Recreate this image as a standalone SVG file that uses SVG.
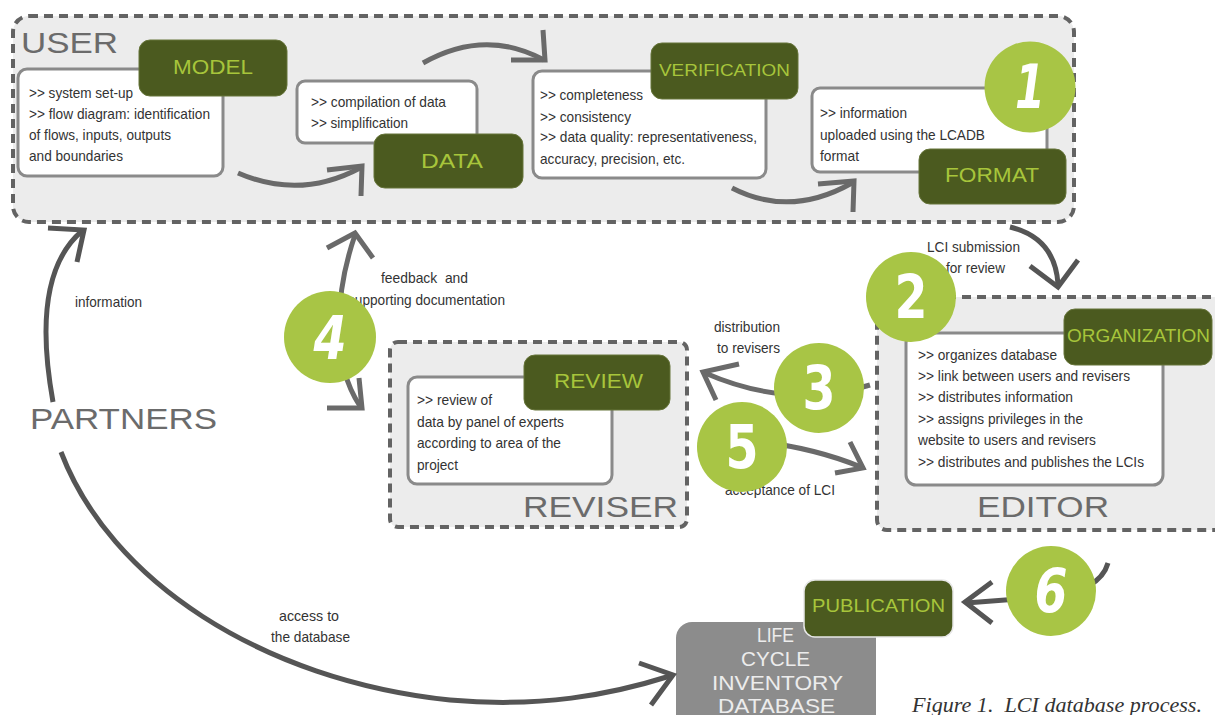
<svg xmlns="http://www.w3.org/2000/svg" width="1215" height="715" viewBox="0 0 1215 715">
<style>
.bg{fill:#fff}
.cont{fill:#ececec;stroke:#636363;stroke-width:4;stroke-dasharray:9 6}
.tb{fill:#fff;stroke:#8a8a8a;stroke-width:3}
.gb{fill:#4b5a1f;stroke:#66743a;stroke-width:1}
.gt{font-family:"Liberation Sans",Arial,sans-serif;fill:#a7c53b;text-anchor:start}
.t{font-family:"Liberation Sans",Arial,sans-serif;font-size:14.5px;fill:#333}
.big{font-family:"Liberation Sans",Arial,sans-serif;font-size:30px;fill:#6b6b6b}
.arr{fill:none;stroke:#6a6a6a;stroke-width:5}
.arrd{fill:none;stroke:#555;stroke-width:5}
.circ{fill:#a8c545}
.num{font-family:"DejaVu Sans Condensed","DejaVu Sans",sans-serif;font-weight:bold;font-size:60px;fill:#fff;text-anchor:middle}
.db{fill:#8c8c8c}
.dbt{font-family:"Liberation Sans",Arial,sans-serif;font-size:21px;fill:#ececec}
</style>
<rect class="bg" x="0" y="0" width="1215" height="715"/>

<g id="user">
<rect class="cont" x="13" y="16" width="1061" height="206" rx="16"/>
<text class="big" x="21" y="53" textLength="97" lengthAdjust="spacingAndGlyphs">USER</text>
</g>

<g id="model">
<rect class="tb" x="18" y="69" width="205" height="107" rx="9"/>
<text class="t" x="29" y="98" textLength="104" lengthAdjust="spacingAndGlyphs">&gt;&gt; system set-up</text>
<text class="t" x="29" y="119" textLength="181" lengthAdjust="spacingAndGlyphs">&gt;&gt; flow diagram: identification</text>
<text class="t" x="29" y="140" textLength="142" lengthAdjust="spacingAndGlyphs">of flows, inputs, outputs</text>
<text class="t" x="29" y="161" textLength="94" lengthAdjust="spacingAndGlyphs">and boundaries</text>
<rect class="gb" x="139" y="40" width="148" height="56" rx="11"/>
<text class="gt" x="173" y="74" font-size="20" textLength="80" lengthAdjust="spacingAndGlyphs">MODEL</text>
</g>

<g id="data">
<rect class="tb" x="297" y="81" width="180" height="62" rx="8"/>
<text class="t" x="311" y="107" textLength="135" lengthAdjust="spacingAndGlyphs">&gt;&gt; compilation of data</text>
<text class="t" x="311" y="128" textLength="97" lengthAdjust="spacingAndGlyphs">&gt;&gt; simplification</text>
<rect class="gb" x="374" y="134" width="149" height="54" rx="11"/>
<text class="gt" x="421" y="168" font-size="21" textLength="62" lengthAdjust="spacingAndGlyphs">DATA</text>
</g>

<g id="verification">
<rect class="tb" x="533" y="71" width="233" height="107" rx="9"/>
<text class="t" x="540" y="100" textLength="103" lengthAdjust="spacingAndGlyphs">&gt;&gt; completeness</text>
<text class="t" x="540" y="122" textLength="91" lengthAdjust="spacingAndGlyphs">&gt;&gt; consistency</text>
<text class="t" x="540" y="142" textLength="217" lengthAdjust="spacingAndGlyphs">&gt;&gt; data quality: representativeness,</text>
<text class="t" x="540" y="164" textLength="145" lengthAdjust="spacingAndGlyphs">accuracy, precision, etc.</text>
<rect class="gb" x="651" y="43" width="147" height="56" rx="11"/>
<text class="gt" x="659" y="76" font-size="16" textLength="131" lengthAdjust="spacingAndGlyphs">VERIFICATION</text>
</g>

<g id="format">
<rect class="tb" x="812" y="88" width="235" height="84" rx="8"/>
<text class="t" x="820" y="118" textLength="87" lengthAdjust="spacingAndGlyphs">&gt;&gt; information</text>
<text class="t" x="820" y="140" textLength="165" lengthAdjust="spacingAndGlyphs">uploaded using the LCADB</text>
<text class="t" x="820" y="161" textLength="39" lengthAdjust="spacingAndGlyphs">format</text>
<rect class="gb" x="919" y="149" width="147" height="55" rx="11"/>
<text class="gt" x="945" y="182" font-size="21" textLength="94" lengthAdjust="spacingAndGlyphs">FORMAT</text>
</g>

<g id="reviser">
<rect class="cont" x="390" y="342" width="297" height="185" rx="8"/>
<rect class="tb" x="408" y="377" width="204" height="107" rx="9"/>
<text class="t" x="417" y="405" textLength="75" lengthAdjust="spacingAndGlyphs">&gt;&gt; review of</text>
<text class="t" x="417" y="427" textLength="147" lengthAdjust="spacingAndGlyphs">data by panel of experts</text>
<text class="t" x="417" y="448" textLength="144" lengthAdjust="spacingAndGlyphs">according to area of the</text>
<text class="t" x="417" y="470" textLength="41" lengthAdjust="spacingAndGlyphs">project</text>
<rect class="gb" x="524" y="355" width="146" height="55" rx="11"/>
<text class="gt" x="554" y="388" font-size="20" textLength="89" lengthAdjust="spacingAndGlyphs">REVIEW</text>
<text class="big" x="523" y="517" textLength="155" lengthAdjust="spacingAndGlyphs">REVISER</text>
</g>

<g id="editor">
<rect class="cont" x="877" y="297" width="350" height="233" rx="10"/>
<rect class="tb" x="906" y="333" width="257" height="152" rx="10"/>
<text class="t" x="918" y="360" textLength="139" lengthAdjust="spacingAndGlyphs">&gt;&gt; organizes database</text>
<text class="t" x="918" y="381" textLength="212" lengthAdjust="spacingAndGlyphs">&gt;&gt; link between users and revisers</text>
<text class="t" x="918" y="402" textLength="155" lengthAdjust="spacingAndGlyphs">&gt;&gt; distributes information</text>
<text class="t" x="918" y="424" textLength="165" lengthAdjust="spacingAndGlyphs">&gt;&gt; assigns privileges in the</text>
<text class="t" x="918" y="445" textLength="178" lengthAdjust="spacingAndGlyphs">website to users and revisers</text>
<text class="t" x="918" y="467" textLength="226" lengthAdjust="spacingAndGlyphs">&gt;&gt; distributes and publishes the LCIs</text>
<rect class="gb" x="1064" y="309" width="148" height="56" rx="11"/>
<text class="gt" x="1067" y="342" font-size="17.5" textLength="143" lengthAdjust="spacingAndGlyphs">ORGANIZATION</text>
<text class="big" x="977" y="517" textLength="132" lengthAdjust="spacingAndGlyphs">EDITOR</text>
</g>

<g id="partners">
<text class="big" x="30" y="429" textLength="187" lengthAdjust="spacingAndGlyphs">PARTNERS</text>
</g>

<g id="database">
<rect class="db" x="676" y="622" width="200" height="110" rx="16"/>
<text class="dbt" x="757" y="642" textLength="37" lengthAdjust="spacingAndGlyphs">LIFE</text>
<text class="dbt" x="741" y="666" textLength="69" lengthAdjust="spacingAndGlyphs">CYCLE</text>
<text class="dbt" x="712" y="690" textLength="131" lengthAdjust="spacingAndGlyphs">INVENTORY</text>
<text class="dbt" x="718" y="713" textLength="117" lengthAdjust="spacingAndGlyphs">DATABASE</text>
</g>

<g id="publication">
<rect class="gb" x="804" y="580" width="149" height="57" rx="11" style="stroke:#e8e8e8;stroke-width:1.5"/>
<text class="gt" x="812" y="612" font-size="17.5" textLength="133" lengthAdjust="spacingAndGlyphs">PUBLICATION</text>
</g>

<g id="connectors">
<path class="arr" d="M238,173 Q300,200 360,168"/>
<polyline class="arr" points="327,170 362,166 361,196"/>
<path class="arr" d="M423,63 Q485,28 544,60"/>
<polyline class="arr" points="511,60 545,60 543,30"/>
<path class="arr" d="M732,188 Q790,218 852,183"/>
<polyline class="arr" points="818,184 854,181 853,212"/>
<path class="arrd" d="M1010,227 Q1055,238 1058,284"/>
<polyline class="arrd" points="1030,266 1058,287 1078,260"/>
<path class="arr" d="M355,235 C336,290 330,362 360,406"/>
<polyline class="arr" points="327,248 355,233 373,258"/>
<polyline class="arr" points="327,408 362,408 359,378"/>
<path class="arr" d="M870,385 Q790,410 705,373"/>
<polyline class="arr" points="739,364 703,372 716,400"/>
<path class="arr" d="M745,440 Q810,446 861,467"/>
<polyline class="arr" points="850,442 863,468 835,473"/>
<path class="arrd" d="M1108,563 Q1100,592 1045,597 L966,603"/>
<polyline class="arrd" points="992,582 965,602 992,623"/>
<path class="arrd" d="M53,402 C40,330 42,265 82,231"/>
<polyline class="arrd" points="48,228 84,230 77,262"/>
<path class="arrd" d="M61,452 C110,580 260,680 450,700 C540,708 610,695 670,676"/>
<polyline class="arrd" points="639,663 673,675 651,705"/>
<text class="t" x="75" y="307" textLength="67" lengthAdjust="spacingAndGlyphs">information</text>
<text class="t" x="381" y="283" textLength="87" lengthAdjust="spacingAndGlyphs" xml:space="preserve">feedback  and</text>
<text class="t" x="348" y="305" textLength="157" lengthAdjust="spacingAndGlyphs">supporting documentation</text>
<text class="t" x="927" y="252" textLength="93" lengthAdjust="spacingAndGlyphs">LCI submission</text>
<text class="t" x="946" y="273" textLength="59" lengthAdjust="spacingAndGlyphs">for review</text>
<text class="t" x="714" y="332" textLength="66" lengthAdjust="spacingAndGlyphs">distribution</text>
<text class="t" x="717" y="353" textLength="63" lengthAdjust="spacingAndGlyphs">to revisers</text>
<text class="t" x="725" y="495" textLength="110" lengthAdjust="spacingAndGlyphs">acceptance of LCI</text>
<text class="t" x="279" y="621" textLength="60" lengthAdjust="spacingAndGlyphs">access to</text>
<text class="t" x="271" y="642" textLength="79" lengthAdjust="spacingAndGlyphs">the database</text>
</g>

<g id="step1"><circle class="circ" cx="1030" cy="87" r="45.5"/><text class="num" x="1030" y="108" font-style="italic" textLength="30" lengthAdjust="spacingAndGlyphs">1</text></g>
<g id="step2"><circle class="circ" cx="911" cy="297" r="45"/><text class="num" x="911" y="318" textLength="33" lengthAdjust="spacingAndGlyphs">2</text></g>
<g id="step3"><circle class="circ" cx="819" cy="388" r="45"/><text class="num" x="819" y="409" textLength="33" lengthAdjust="spacingAndGlyphs">3</text></g>
<g id="step4"><circle class="circ" cx="330" cy="337" r="46"/><text class="num" x="330" y="359" font-style="italic" textLength="33" lengthAdjust="spacingAndGlyphs">4</text></g>
<g id="step5"><circle class="circ" cx="742" cy="447" r="45"/><text class="num" x="742" y="468" textLength="33" lengthAdjust="spacingAndGlyphs">5</text></g>
<g id="step6"><circle class="circ" cx="1051" cy="591" r="45"/><text class="num" x="1051" y="612" font-style="italic" textLength="33" lengthAdjust="spacingAndGlyphs">6</text></g>

<text x="912" y="712" font-family="'Liberation Serif','Times New Roman',serif" font-style="italic" font-size="20" fill="#333" textLength="290" lengthAdjust="spacingAndGlyphs" xml:space="preserve">Figure 1.  LCI database process.</text>
</svg>
